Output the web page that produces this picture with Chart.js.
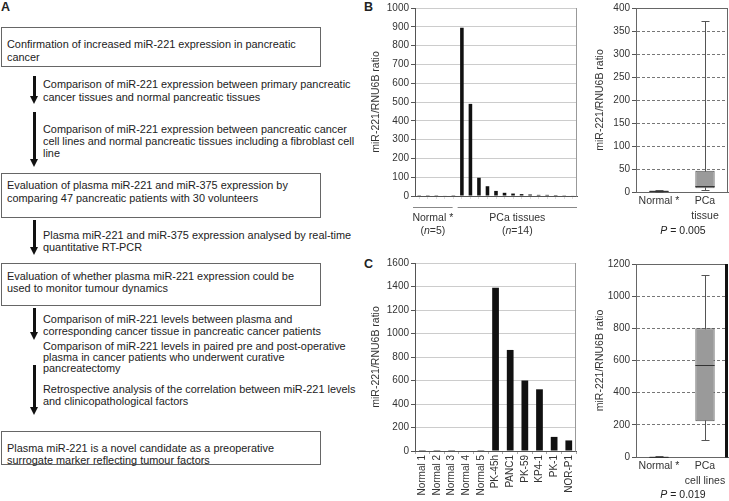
<!DOCTYPE html>
<html><head><meta charset="utf-8">
<script src="https://cdn.jsdelivr.net/npm/chart.js@4.4.1/dist/chart.umd.min.js"></script>
<style>
html,body{margin:0;padding:0;background:#fff;}
#root{position:relative;width:729px;height:501px;overflow:hidden;font-family:"Liberation Sans",Arial,Helvetica,sans-serif;color:#222;}
.t{position:absolute;white-space:nowrap;}
.b{font-size:10.9px;}
.s{font-size:10.9px;}
.bx{position:absolute;border:1px solid #666;box-sizing:border-box;left:1px;width:320px;}
.shaft{position:absolute;width:3px;background:#111;left:33px;}
.head{position:absolute;width:0;height:0;left:30px;border-left:4.5px solid transparent;border-right:4.5px solid transparent;border-top:8px solid #111;}
canvas{position:absolute;}
.lbl{position:absolute;font-weight:bold;font-size:12.5px;line-height:14px;}
.p{position:absolute;font-size:10.5px;line-height:12px;text-align:center;width:100px;}
</style></head>
<body><div id="root">
<div class="lbl" style="left:1px;top:0px">A</div>
<div class="lbl" style="left:364px;top:0px">B</div>
<div class="lbl" style="left:364px;top:257px">C</div>

<div class="bx" style="top:27px;height:40px"></div>
<div class="t b" style="left:7px;top:38.4px;line-height:12.6px">Confirmation of increased miR-221 expression in pancreatic<br>cancer</div>

<div class="shaft" style="top:76px;height:21px"></div><div class="head" style="top:96px"></div>
<div class="t s" style="left:43px;top:78.1px;line-height:12.4px">Comparison of miR-221 expression between primary pancreatic<br>cancer tissues and normal pancreatic tissues</div>

<div class="shaft" style="top:112px;height:48px"></div><div class="head" style="top:159px"></div>
<div class="t s" style="left:43px;top:124.1px;line-height:11.8px">Comparison of miR-221 expression between pancreatic cancer<br>cell lines and normal pancreatic tissues including a fibroblast cell<br>line</div>

<div class="bx" style="top:173px;height:45px"></div>
<div class="t b" style="left:7px;top:178.5px;line-height:13px">Evaluation of plasma miR-221 and miR-375 expression by<br>comparing 47 pancreatic patients with 30 volunteers</div>

<div class="shaft" style="top:220px;height:28px"></div><div class="head" style="top:247px"></div>
<div class="t s" style="left:43px;top:229px;line-height:12px">Plasma miR-221 and miR-375 expression analysed by real-time<br>quantitative RT-PCR</div>

<div class="bx" style="top:263px;height:43px"></div>
<div class="t b" style="left:7px;top:269.8px;line-height:12.5px">Evaluation of whether plasma miR-221 expression could be<br>used to monitor tumour dynamics</div>

<div class="shaft" style="top:308px;height:25px"></div><div class="head" style="top:332px"></div>
<div class="t s" style="left:43px;top:312.8px;line-height:12.5px">Comparison of miR-221 levels between plasma and<br>corresponding cancer tissue in pancreatic cancer patients</div>

<div class="t s" style="left:43px;top:341.3px;line-height:10.8px">Comparison of miR-221 levels in paired pre and post-operative<br>plasma in cancer patients who underwent curative<br>pancreatectomy</div>

<div class="shaft" style="top:365px;height:43px"></div><div class="head" style="top:407px"></div>
<div class="t s" style="left:43px;top:384.2px;line-height:11.7px">Retrospective analysis of the correlation between miR-221 levels<br>and clinicopathological factors</div>

<div class="bx" style="top:431px;height:34px"></div>
<div class="t b" style="left:7px;top:441.5px;line-height:12.3px">Plasma miR-221 is a novel candidate as a preoperative<br>surrogate marker reflecting tumour factors</div>

<canvas id="cB1" width="212" height="240" style="left:370px;top:0px"></canvas>
<canvas id="cB2" width="144" height="240" style="left:585px;top:0px"></canvas>
<canvas id="cC1" width="212" height="246" style="left:370px;top:255px"></canvas>
<canvas id="cC2" width="144" height="246" style="left:585px;top:255px"></canvas>

<div class="p" style="left:633px;top:224px"><i>P</i> = 0.005</div>
<div class="p" style="left:633px;top:488px"><i>P</i> = 0.019</div>
</div>
<script>
// ---------- data ----------
const tissueNormalLabels = ['N1','N2','N3','N4','N5'];
const tissuePCaLabels = ['T1','T2','T3','T4','T5','T6','T7','T8','T9','T10','T11','T12','T13','T14'];
const tissueNormalValues = [1, 1, 1, 3, 1];
const tissuePCaValues = [895, 490, 97, 52, 27, 17, 13, 10, 8, 6, 6, 5, 4, 3];
const tissueGroupNames = ['Normal *', 'PCa tissues'];
const tissueGroupN = ['5', '14'];

const cellLabels = ['Normal 1','Normal 2','Normal 3','Normal 4','Normal 5','PK-45h','PANC1','PK-59','KP4-1','PK-1','NOR-P1'];
const cellValues = [1, 1, 1, 4, 1, 1390, 860, 600, 525, 120, 90];

const boxTissueCats = ['Normal *', ['PCa','tissue']];
const boxTissueMin = [0.5, 4];
const boxTissueQ1 = [1, 8];
const boxTissueMedian = [1.5, 13];
const boxTissueQ3 = [3, 46];
const boxTissueMax = [4, 372];

const boxCellCats = ['Normal *', ['PCa','cell lines']];
const boxCellMin = [0.5, 104];
const boxCellQ1 = [1, 222];
const boxCellMedian = [2, 572];
const boxCellQ3 = [5, 800];
const boxCellMax = [6, 1133];

const yTitle = 'miR-221/RNU6B ratio';

// ---------- setup ----------
Chart.defaults.font.family = '"Liberation Sans", Arial, sans-serif';
Chart.defaults.font.size = 10;
Chart.defaults.color = '#333';
Chart.defaults.animation = false;

const framePlugin = {
  id: 'frame',
  afterDraw(chart, args, o) {
    const {ctx, chartArea: a} = chart;
    ctx.save();
    if (o.top) { ctx.strokeStyle = o.top; ctx.lineWidth = 1; ctx.beginPath(); ctx.moveTo(a.left, Math.round(a.top) + 0.5); ctx.lineTo(a.right, Math.round(a.top) + 0.5); ctx.stroke(); }
    if (o.right) { const w = o.rightWidth || 1; ctx.strokeStyle = o.right; ctx.lineWidth = w; ctx.beginPath(); const x = Math.round(a.right) - w / 2; ctx.moveTo(x, a.top); ctx.lineTo(x, a.bottom + 0.5); ctx.stroke(); }
    ctx.restore();
  }
};

const groupPlugin = {
  id: 'groups',
  afterDraw(chart, args, o) {
    if (!o.items) return;
    const {ctx, scales: {x}} = chart;
    const half = (x.getPixelForValue(1) - x.getPixelForValue(0)) / 2;
    ctx.save();
    o.items.forEach(g => {
      const x0 = x.getPixelForValue(g.from) - half + g.padL;
      const x1 = x.getPixelForValue(g.to) + half - g.padR;
      ctx.strokeStyle = '#888'; ctx.lineWidth = 1;
      ctx.beginPath(); ctx.moveTo(x0, o.lineY + 0.5); ctx.lineTo(x1, o.lineY + 0.5); ctx.stroke();
      const cx = (x0 + x1) / 2;
      ctx.fillStyle = '#333'; ctx.textBaseline = 'middle'; ctx.textAlign = 'center';
      ctx.font = '10.5px "Liberation Sans", Arial, sans-serif';
      ctx.fillText(g.label, cx, o.labelY);
      const parts = [['(', false], ['n', true], ['=' + g.n + ')', false]];
      const fontOf = it => (it ? 'italic ' : '') + '10.5px "Liberation Sans", Arial, sans-serif';
      let tw = 0;
      parts.forEach(p => { ctx.font = fontOf(p[1]); tw += ctx.measureText(p[0]).width; });
      let px = cx - tw / 2;
      ctx.textAlign = 'left';
      parts.forEach(p => { ctx.font = fontOf(p[1]); ctx.fillText(p[0], px, o.nY); px += ctx.measureText(p[0]).width; });
    });
    ctx.restore();
  }
};

const boxPlugin = {
  id: 'boxw',
  beforeDatasetsDraw(chart, args, o) {
    if (!o.min) return;
    const {ctx, scales: {x, y}} = chart;
    ctx.save(); ctx.strokeStyle = '#555'; ctx.lineWidth = 1;
    o.min.forEach((mn, i) => {
      const cx = Math.round(x.getPixelForValue(i)) + 0.5;
      const yMin = Math.round(y.getPixelForValue(mn)) + 0.5;
      const yMax = Math.round(y.getPixelForValue(o.max[i])) + 0.5;
      ctx.beginPath();
      ctx.moveTo(cx, yMin); ctx.lineTo(cx, yMax);
      ctx.moveTo(cx - o.cap, yMax); ctx.lineTo(cx + o.cap, yMax);
      ctx.moveTo(cx - o.cap, yMin); ctx.lineTo(cx + o.cap, yMin);
      ctx.stroke();
    });
    ctx.restore();
  },
  afterDatasetsDraw(chart, args, o) {
    if (!o.median) return;
    const {ctx, scales: {y}} = chart;
    const meta = chart.getDatasetMeta(0);
    ctx.save(); ctx.strokeStyle = '#333'; ctx.lineWidth = 1;
    o.median.forEach((m, i) => {
      const el = meta.data[i];
      const yy = Math.round(y.getPixelForValue(m)) + 0.5;
      ctx.beginPath(); ctx.moveTo(el.x - el.width / 2, yy); ctx.lineTo(el.x + el.width / 2, yy); ctx.stroke();
    });
    ctx.restore();
  }
};

function yAxis(max, step, width, titlePad) {
  return {
    min: 0, max: max,
    ticks: {stepSize: step, padding: 2, font: {size: 10}, callback: v => String(v)},
    grid: {color: '#ccc', tickLength: 4, tickColor: '#555', z: -1},
    border: {color: '#555'},
    title: {display: true, text: yTitle, font: {size: 10.5}, color: '#333', padding: {top: titlePad, bottom: 0}},
    afterFit(s) { s.width = width; }
  };
}

// ---------- B left: tissues bar chart ----------
const tissueLabels = tissueNormalLabels.concat(tissuePCaLabels);
const tissueValues = tissueNormalValues.concat(tissuePCaValues);
new Chart(document.getElementById('cB1'), {
  type: 'bar',
  data: {labels: tissueLabels, datasets: [{data: tissueValues, backgroundColor: '#111', barPercentage: 0.42, categoryPercentage: 1}]},
  options: {
    responsive: false, devicePixelRatio: 1, animation: false,
    layout: {padding: {top: 6, right: 5, bottom: 0, left: 0}},
    plugins: {
      legend: {display: false}, tooltip: {enabled: false},
      frame: {right: '#999'},
      groups: {lineY: 207, labelY: 218, nY: 231, items: [
        {from: 0, to: tissueNormalLabels.length - 1, label: tissueGroupNames[0], n: tissueGroupN[0], padL: -2, padR: 5},
        {from: tissueNormalLabels.length, to: tissueLabels.length - 1, label: tissueGroupNames[1], n: tissueGroupN[1], padL: 0, padR: 0}
      ]}
    },
    scales: {
      x: {ticks: {display: false}, grid: {drawOnChartArea: false, tickLength: 3, color: '#ddd', offset: false}, border: {color: '#555'}, afterFit(s) { s.height = 44; }},
      y: yAxis(1000, 100, 45, 0)
    }
  },
  plugins: [framePlugin, groupPlugin]
});

// ---------- box plots ----------
function boxChart(id, cats, mn, q1, med, q3, mx, max, step, padTop, xh, extraFrame) {
  const y = yAxis(max, step, 51, 9);
  y.grid = {color: '#777', tickLength: 4, tickColor: '#555', z: -1};
  y.border = {color: '#666', dash: [3, 2]};
  return new Chart(document.getElementById(id), {
    type: 'bar',
    data: {labels: cats, datasets: [{
      data: q1.map((v, i) => [v, q3[i]]),
      backgroundColor: '#9a9a9a', borderColor: '#555', borderWidth: 1, borderSkipped: false,
      barPercentage: 0.42, categoryPercentage: 1
    }]},
    options: {
      responsive: false, devicePixelRatio: 1, animation: false,
      layout: {padding: {top: padTop, right: 1, bottom: 0, left: 0}},
      plugins: {
        legend: {display: false}, tooltip: {enabled: false},
        frame: Object.assign({top: '#666', right: '#666'}, extraFrame || {}),
        boxw: {min: mn, max: mx, median: med, cap: 4}
      },
      scales: {
        x: {grid: {display: false, drawTicks: false}, border: {color: '#666'}, ticks: {padding: 2, autoSkip: false, minRotation: 0, maxRotation: 0, font: {size: 10.5, lineHeight: 1.4}}, afterFit(s) { s.height = xh; }},
        y: y
      }
    },
    plugins: [framePlugin, boxPlugin]
  });
}
boxChart('cB2', boxTissueCats, boxTissueMin, boxTissueQ1, boxTissueMedian, boxTissueQ3, boxTissueMax, 400, 50, 6, 48);

// ---------- C left: cell lines bar chart ----------
new Chart(document.getElementById('cC1'), {
  type: 'bar',
  data: {labels: cellLabels, datasets: [{data: cellValues, backgroundColor: '#111', barPercentage: 0.46, categoryPercentage: 1}]},
  options: {
    responsive: false, devicePixelRatio: 1, animation: false,
    layout: {padding: {top: 7, right: 5, bottom: 0, left: 0}},
    plugins: {legend: {display: false}, tooltip: {enabled: false}, frame: {right: '#999'}},
    scales: {
      x: {ticks: {minRotation: 90, maxRotation: 90, autoSkip: false, padding: 1, font: {size: 10}}, grid: {drawOnChartArea: false, tickLength: 3, color: '#aaa', offset: true}, border: {color: '#555'}, afterFit(s) { s.height = 50; }},
      y: yAxis(1600, 200, 45, 0)
    }
  },
  plugins: [framePlugin]
});

boxChart('cC2', boxCellCats, boxCellMin, boxCellQ1, boxCellMedian, boxCellQ3, boxCellMax, 1200, 200, 9, 44, {right: '#111', rightWidth: 3});
</script>
</body></html>
